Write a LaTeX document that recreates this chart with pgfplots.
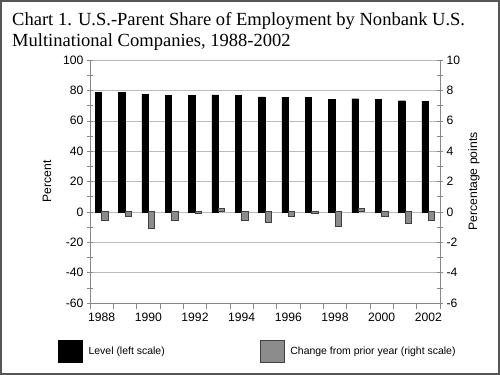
\documentclass[border=0pt]{standalone}
\usepackage{pgfplots}
\usepackage{pgfplotstable}
\pgfplotsset{compat=1.18}
\usepackage{fontspec}
\setmainfont{Liberation Sans}
\newfontfamily\titlefont{Liberation Serif}
\definecolor{framec}{HTML}{555555}
\definecolor{gridc}{HTML}{BBBBBB}
\definecolor{axisc}{HTML}{888888}
\definecolor{barg}{HTML}{8C8C8C}
\definecolor{bargedge}{HTML}{404040}

\pgfplotstableread{
x level change
0 78.9 -0.59
1 78.5 -0.31
2 77.5 -1.12
3 76.9 -0.59
4 76.9 -0.10
5 77.0 0.20
6 76.5 -0.59
7 75.8 -0.72
8 75.6 -0.31
9 75.5 -0.10
10 74.3 -0.94
11 74.5 0.20
12 74.2 -0.31
13 73.2 -0.79
14 72.9 -0.57
}\data

\begin{document}
\begin{tikzpicture}
\useasboundingbox (0bp,0bp) rectangle (500bp,375bp);
\fill[white] (0bp,0bp) rectangle (500bp,375bp);
\draw[line width=2bp, framec] (1bp,1bp) rectangle (499bp,374bp);
\node[anchor=base west, inner sep=0pt, font=\titlefont\fontsize{18.6}{22}\selectfont] at (12bp,349bp) {Chart 1. U.S.-Parent Share of Employment by Nonbank U.S.};
\node[anchor=base west, inner sep=0pt, font=\titlefont\fontsize{18.6}{22}\selectfont] at (12bp,328bp) {Multinational Companies, 1988-2002};

\begin{axis}[
  at={(90bp,72bp)}, anchor=south west, scale only axis,
  width=350bp, height=243bp,
  xmin=-0.5, xmax=14.5, ymin=-60, ymax=100,
  axis x line*=bottom, axis y line*=left,
  axis line style={axisc},
  xtick={-0.5,0.5,...,14.5},
  xticklabels={1988,,1990,,1992,,1994,,1996,,1998,,2000,,2002,},
  x tick label style={xshift=11.667bp},
  ytick={-60,-40,...,100},
  minor y tick num=1,
  tick align=center, major tick length=6bp, minor tick length=6bp,
  tick style={axisc, thin},
  ymajorgrids, grid style={gridc, thin},
  /pgf/number format/assume math mode=true,
  ticklabel style={font=\fontsize{12.2}{14}\selectfont},
  ylabel={Percent},
  ylabel style={at={(axis description cs:-0.123,0.5)}, anchor=center, rotate=0, font=\fontsize{12.2}{14}\selectfont},
  ybar, bar width=6.5bp,
  clip=false,
]
\addplot[fill=black, draw=black, bar shift=-3.25bp] table[x=x, y=level] {\data};
\end{axis}

\begin{axis}[
  at={(90bp,72bp)}, anchor=south west, scale only axis,
  width=350bp, height=243bp,
  xmin=-0.5, xmax=14.5, ymin=-6, ymax=10,
  hide x axis, axis y line*=right,
  axis line style={axisc},
  ytick={-6,-4,...,10},
  minor y tick num=1,
  tick align=center, major tick length=6bp, minor tick length=6bp,
  tick style={axisc, thin},
  /pgf/number format/assume math mode=true,
  ticklabel style={font=\fontsize{12.2}{14}\selectfont},
  ylabel={Percentage points},
  every axis y label/.style={at={(axis description cs:1.097,0.5)}, anchor=center, rotate=90, font=\fontsize{12.2}{14}\selectfont},
  ybar, bar width=6.5bp,
  legend image code/.code={\draw[#1] (0bp,-11bp) rectangle (24bp,11bp);},
  legend style={at={(axis description cs:-0.0914,-0.1975)}, anchor=west, draw=none, fill=none,
    legend columns=2, inner sep=0pt, column sep=6bp, nodes={inner sep=0pt},
    font=\fontsize{10.5}{13}\selectfont},
  clip=false,
]
\addlegendimage{fill=black, draw=black}
\addlegendentry{\makebox[165bp][l]{Level (left scale)}}
\addplot[fill=barg, draw=bargedge, line width=0.8bp, bar shift=3.25bp] table[x=x, y=change] {\data};
\addlegendentry{Change from prior year (right scale)}
\end{axis}
\end{tikzpicture}
\end{document}
